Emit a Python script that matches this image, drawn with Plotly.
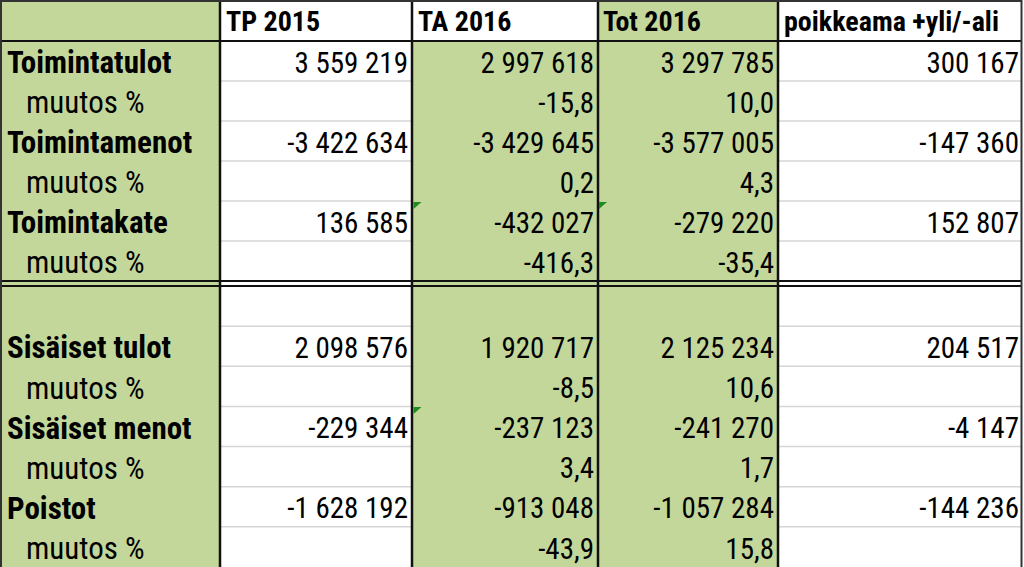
import plotly.graph_objects as go

# ---------------- data ----------------
headers = ["", "TP 2015", "TA 2016", "Tot 2016", "poikkeama +yli/-ali"]
row_labels = ["Toimintatulot", "muutos %", "Toimintamenot", "muutos %",
              "Toimintakate", "muutos %", "",
              "Sisäiset tulot", "muutos %", "Sisäiset menot", "muutos %",
              "Poistot", "muutos %"]
tp2015 = [3559219, None, -3422634, None, 136585, None, None,
          2098576, None, -229344, None, -1628192, None]
ta2016 = [2997618, -15.8, -3429645, 0.2, -432027, -416.3, None,
          1920717, -8.5, -237123, 3.4, -913048, -43.9]
tot2016 = [3297785, 10.0, -3577005, 4.3, -279220, -35.4, None,
           2125234, 10.6, -241270, 1.7, -1057284, 15.8]
poikkeama = [300167, None, -147360, None, 152807, None, None,
             204517, None, -4147, None, -144236, None]


def fmt(v, label):
    if v is None:
        return ""
    if label == "muutos %":
        return f"{v:.1f}".replace(".", ",")
    return f"{v:,.0f}".replace(",", " ")


# ---------------- geometry ----------------
W, H = 1024, 567
col_edges = [0, 220, 412, 598, 778, 1022]
header_bottom = 41
row_h_top = 40.0
split_top, split_bot = 281, 286
row_h_bot = (H - split_bot) / 7

row_tops = []
for i in range(6):
    row_tops.append(header_bottom + row_h_top * i)
for j in range(7):
    row_tops.append(split_bot + row_h_bot * j)
row_centers = [t + 20 + 4.5 for t in row_tops]

GREEN = "#c4d79b"
FONT = "Liberation Sans Narrow, Arial Narrow, Roboto Condensed, Liberation Sans, sans-serif"
FS = 29
FS_LAB = 31

fig = go.Figure()
shapes = []

# fills
shapes.append(dict(type="rect", x0=0, x1=220, y0=0, y1=H, fillcolor=GREEN, line_width=0, layer="below"))
shapes.append(dict(type="rect", x0=412, x1=598, y0=header_bottom, y1=H, fillcolor=GREEN, line_width=0, layer="below"))
shapes.append(dict(type="rect", x0=598, x1=778, y0=0, y1=H, fillcolor=GREEN, line_width=0, layer="below"))

# light grid lines in white columns
grid_ys = [header_bottom + row_h_top * i for i in range(1, 6)] + \
          [split_bot + row_h_bot * j for j in range(1, 7)]
for gy in grid_ys:
    for (a, b) in [(221, 411), (779, 1021)]:
        shapes.append(dict(type="line", x0=a, x1=b, y0=gy, y1=gy,
                           line=dict(color="#d6d6d6", width=1.5)))

# dark lines
dark = "#111111"
for xv in col_edges[1:-1]:
    shapes.append(dict(type="line", x0=xv, x1=xv, y0=0, y1=H, line=dict(color=dark, width=2.5)))
for yv in [header_bottom, split_top, split_bot]:
    shapes.append(dict(type="line", x0=0, x1=1022, y0=yv, y1=yv, line=dict(color=dark, width=2)))
shapes.append(dict(type="line", x0=0, x1=1022, y0=1, y1=1, line=dict(color="#333", width=2)))
shapes.append(dict(type="line", x0=1, x1=1, y0=0, y1=H, line=dict(color="#333", width=2)))
shapes.append(dict(type="line", x0=1021.5, x1=1021.5, y0=0, y1=H, line=dict(color="#333", width=2)))

# excel error indicators (small green triangles)
for (tx, ty) in [(413.5, 202), (599, 202), (413.5, 407)]:
    shapes.append(dict(type="path",
                       path=f"M {tx},{ty} L {tx+8},{ty} L {tx},{ty+7} Z",
                       fillcolor="#1f8a1f", line_width=0))

# header text
hx = [8, 226, 418, 603, 784]
fig.add_trace(go.Scatter(
    x=hx[1:], y=[23.5] * 4, mode="text",
    text=[f"<b>{h}</b>" for h in headers[1:]],
    textposition="middle right",
    textfont=dict(family=FONT, size=FS - 1, color="black"),
    hoverinfo="skip", showlegend=False))

# row labels
lab_x = [26 if l == "muutos %" else 7 for l in row_labels]
lab_t = [l if l == "muutos %" else f"<b>{l}</b>" for l in row_labels]
fig.add_trace(go.Scatter(
    x=lab_x, y=row_centers, mode="text", text=lab_t,
    textposition="middle right",
    textfont=dict(family=FONT, size=FS_LAB, color="black"),
    hoverinfo="skip", showlegend=False))

# values (right aligned)
right_x = [408, 594, 774, 1019]
for col, rx in zip([tp2015, ta2016, tot2016, poikkeama], right_x):
    fig.add_trace(go.Scatter(
        x=[rx] * len(col), y=row_centers, mode="text",
        text=[fmt(v, l) for v, l in zip(col, row_labels)],
        textposition="middle left",
        textfont=dict(family=FONT, size=FS, color="black"),
        hoverinfo="skip", showlegend=False))

fig.update_layout(
    width=W, height=H, margin=dict(l=0, r=0, t=0, b=0),
    plot_bgcolor="white", paper_bgcolor="white",
    xaxis=dict(range=[0, W], visible=False, fixedrange=True),
    yaxis=dict(range=[H, 0], visible=False, fixedrange=True),
    shapes=shapes,
)
fig.write_html(
    "out.html",
    config={"displayModeBar": False, "staticPlot": True},
    post_script="document.body.style.margin='0';document.body.style.overflow='hidden';",
)
